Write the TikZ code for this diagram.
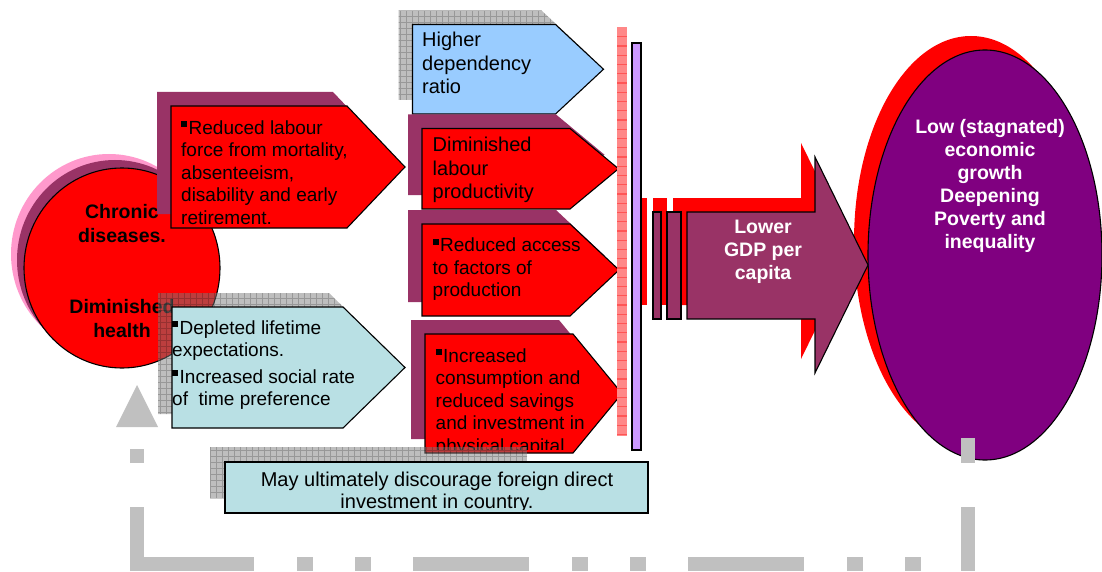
\documentclass[tikz,border=0pt]{standalone}
\usepackage{fontspec}
\setmainfont{Liberation Sans}
\definecolor{cred}{HTML}{FF0000}
\definecolor{cmaroon}{HTML}{993366}
\definecolor{cpurple}{HTML}{800080}
\definecolor{cblue}{HTML}{99CCFF}
\definecolor{cteal}{HTML}{B9E0E4}
\definecolor{cpink}{HTML}{FF99CC}
\definecolor{cgrey}{HTML}{C0C0C0}
\definecolor{cstripe}{HTML}{FF8888}
\definecolor{cstripeline}{HTML}{FF5555}
\definecolor{clav}{HTML}{CC99FF}
\newcommand\pentpath[5]{(#1,#2) -- (#3,#2) -- (#4,{(#2+#5)/2}) -- (#3,#5) -- (#1,#5) -- cycle}
\newcommand\bul{\raisebox{7pt}{\rule{6pt}{6pt}}\hspace{1.5pt}}
\newcommand\fa{\fontsize{19}{22.5}\selectfont}
\newcommand\fb{\fontsize{20}{23.5}\selectfont}
\newcommand\fcirc{\fontsize{19.5}{24.5}\selectfont\bfseries}
\newcommand\fell{\fontsize{19.5}{23}\selectfont\bfseries}
\newcommand\fbot{\fontsize{20}{22}\selectfont}
\newcommand\gridshadow[5]{%
  \begin{scope}[shift={(-14,-14)}]
    \clip \pentpath{#1}{#2}{#3}{#4}{#5};
    \fill[black!51, opacity=.5] (0,0) rectangle (1102,572);
    \draw[black, opacity=.2, line width=.7pt, step=6pt] (0,572) grid (1102,0);
  \end{scope}}
\begin{document}
\begin{tikzpicture}[x=1pt,y=-1pt,
  tx/.style={anchor=north west, inner sep=0pt, align=left},
  tc/.style={anchor=north, inner sep=0pt, align=center},
  outl/.style={draw=black, line width=1.1pt},
  fb/.style={draw=cgrey, line width=14pt}]
\useasboundingbox (0,0) rectangle (1102,572);

% left circle
\fill[cpink] (109,254) ellipse [x radius=98, y radius=100];
\fill[cmaroon] (115,260) ellipse [x radius=98, y radius=100];
\filldraw[fill=cred, outl] (122,268) ellipse [x radius=98, y radius=100];
\node[tc, font=\fcirc] (tChr) at (122,200.85) {\strut Chronic\\diseases.};
\node[tc, font=\fcirc] (tDim) at (122,295.85) {\strut Diminished\\health};

% A: reduced labour
\fill[cmaroon, shift={(-14,-14)}] \pentpath{171}{106}{347}{405}{228};
\filldraw[fill=cred, outl] \pentpath{171}{106}{347}{405}{228};
\node[tx, font=\fa] (tA) at (181,118.25) {\strut\bul Reduced labour\\force from mortality,\\absenteeism,\\disability and early\\retirement.};

% B: teal
\gridshadow{172}{307}{343}{405}{428}
\filldraw[fill=cteal, outl] \pentpath{172}{307}{343}{405}{428};
\node[tx, font=\fa] (tB) at (172,318.25) {\strut\bul Depleted lifetime\\expectations.\\[4pt]\bul Increased social rate\\of\ \ time preference};

% C: higher dependency
\gridshadow{412.5}{24.5}{555.5}{603.5}{114}
\filldraw[fill=cblue, outl] \pentpath{412.5}{24.5}{555.5}{603.5}{114};
\node[tx, font=\fb] (tC) at (422,30.2) {\strut Higher\\dependency\\ratio};

% D: diminished labour productivity
\fill[cmaroon, shift={(-14,-14)}] \pentpath{422}{128.5}{570}{618.5}{209};
\filldraw[fill=cred, outl] \pentpath{422}{128.5}{570}{618.5}{209};
\node[tx, font=\fb] (tD) at (432.5,135.2) {\strut Diminished\\labour\\productivity};

% E: reduced access
\fill[cmaroon, shift={(-14,-14)}] \pentpath{422}{224}{570}{619}{316};
\filldraw[fill=cred, outl] \pentpath{422}{224}{570}{619}{316};
\node[tx, font=\fa] (tE) at (432.5,236) {\strut\bul Reduced access\\to factors of\\production};

% F: increased consumption
\fill[cmaroon, shift={(-14,-14)}] \pentpath{425}{334}{573}{622}{453};
\filldraw[fill=cred, outl] \pentpath{425}{334}{573}{622}{453};
\begin{scope}
  \clip (420,330) rectangle (630,449);
  \node[tx, font=\fa] (tF) at (435.5,346.5) {\strut\bul Increased\\consumption and\\reduced savings\\and investment in\\physical capital};
\end{scope}

% bottom box
\begin{scope}
  \clip (210,447) rectangle (527,498);
  \fill[black!51, opacity=.5] (210,447) rectangle (527,498);
  \draw[black, opacity=.2, line width=.7pt, step=6pt] (0,572) grid (1102,0);
\end{scope}
\filldraw[fill=cteal, outl] (225,462) rectangle (648,513);
\begin{scope}
  \clip (225,462) rectangle (648,509);
  \node[tc, font=\fbot] (tFdi) at (437,470.6) {\strut May ultimately discourage foreign direct\\investment in country.};
\end{scope}

% right ellipse
\fill[cred] (971,241) ellipse [x radius=117, y radius=205];
\filldraw[fill=cpurple, outl] (985,255) ellipse [x radius=117, y radius=205];
\node[tc, font=\fell, text=white] (tEll) at (990,116.9) {\strut Low (stagnated)\\economic\\growth\\Deepening\\Poverty and\\inequality};

% big arrow shadow
\begin{scope}[shift={(-14,-14)}]
  \fill[cred] (653,212) rectangle (661,319);
  \fill[cred] (667,212) rectangle (681,319);
  \fill[cred] (687,212) -- (815,212) -- (815,157) -- (868,265) -- (815,373) -- (815,319) -- (687,319) -- cycle;
\end{scope}

% bars
\fill[cstripe] (617,27) rectangle (627,436);
\foreach \k in {0,...,43} \draw[cstripeline, line width=1.3pt] (617,{36.7+9.25*\k}) -- (627,{36.7+9.25*\k});
\filldraw[fill=clav, outl] (632,43) rectangle (641,450);

% big arrow
\filldraw[fill=cmaroon, outl] (653,212) rectangle (661,319);
\filldraw[fill=cmaroon, outl] (667,212) rectangle (681,319);
\filldraw[fill=cmaroon, outl] (687,212) -- (815,212) -- (815,157) -- (868,265) -- (815,373) -- (815,319) -- (687,319) -- cycle;
\node[tc, font=\fell, text=white] (tGdp) at (763,216.9) {\strut Lower\\GDP per\\capita};

% feedback connector
\coordinate (fbA) at (968,438);
\coordinate (fbB) at (968,571);
\coordinate (fbC) at (138,564);
\coordinate (fbD) at (975,564);
\coordinate (fbE) at (137,571);
\coordinate (fbF) at (137,427);
\coordinate (fbTip) at (137,385);
\draw[fb, dash pattern=on 25pt off 44pt on 200pt] (fbA) -- (fbB);
\draw[fb, dash pattern=on 116pt off 43pt on 16pt off 42pt on 16pt off 42pt] (fbC) -- (fbD);
\draw[fb, dash pattern=on 64pt off 44pt on 14pt off 200pt] (fbE) -- (fbF);
\fill[cgrey] ([xshift=-21pt]fbF) -- ([xshift=21pt]fbF) -- (fbTip) -- cycle;
\end{tikzpicture}
\end{document}
